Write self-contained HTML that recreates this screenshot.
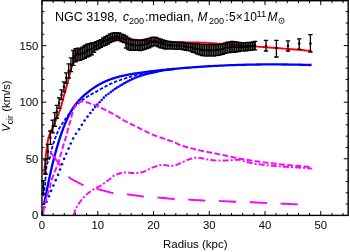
<!DOCTYPE html>
<html><head><meta charset="utf-8"><title>NGC 3198</title>
<style>html,body{margin:0;padding:0;background:#fff;width:350px;height:252px;overflow:hidden;font-family:"Liberation Sans",sans-serif}</style>
</head><body>
<svg width="350" height="252" viewBox="0 0 350 252" style="position:absolute;left:0;top:0;will-change:transform;">
<rect x="0" y="0" width="350" height="252" fill="#fff"/>
<path d="M44.20 175.00 L44.30 173.49 L44.39 171.96 L44.49 170.44 L44.59 168.93 L44.69 167.44 L44.80 166.00 L44.91 164.66 L45.03 163.41 L45.15 162.19 L45.28 160.93 L45.43 159.55 L45.60 158.00 L45.79 156.21 L46.00 154.22 L46.23 152.12 L46.47 150.00 L46.73 147.93 L47.00 146.00 L47.26 144.23 L47.51 142.57 L47.77 140.97 L48.09 139.37 L48.49 137.73 L49.00 136.00 L49.65 134.20 L50.41 132.39 L51.25 130.53 L52.15 128.61 L53.07 126.61 L54.00 124.50 L54.97 122.24 L56.01 119.83 L57.09 117.34 L58.14 114.83 L59.13 112.36 L60.00 110.00 L60.74 107.75 L61.38 105.56 L61.95 103.41 L62.49 101.28 L63.03 99.15 L63.60 97.00 L64.20 94.83 L64.81 92.65 L65.42 90.47 L66.02 88.30 L66.62 86.14 L67.20 84.00 L67.77 81.88 L68.32 79.77 L68.87 77.68 L69.41 75.60 L69.95 73.54 L70.50 71.50 L71.06 69.41 L71.64 67.24 L72.22 65.10 L72.78 63.06 L73.31 61.19 L73.80 59.60 L74.23 58.31 L74.62 57.26 L74.98 56.40 L75.32 55.66 L75.66 54.98 L76.00 54.30 L76.34 53.64 L76.68 53.06 L77.01 52.54 L77.34 52.07 L77.67 51.63 L78.00 51.20 L78.31 50.81 L78.59 50.47 L78.88 50.16 L79.19 49.86 L79.55 49.54 L80.00 49.20 L80.53 48.83 L81.11 48.44 L81.75 48.05 L82.44 47.64 L83.19 47.23 L84.00 46.80 L84.86 46.35 L85.78 45.87 L86.75 45.39 L87.78 44.90 L88.86 44.44 L90.00 44.00 L91.22 43.59 L92.52 43.20 L93.88 42.82 L95.26 42.47 L96.64 42.12 L98.00 41.80 L99.32 41.49 L100.63 41.21 L101.94 40.94 L103.26 40.68 L104.61 40.44 L106.00 40.20 L107.43 39.96 L108.89 39.73 L110.38 39.50 L111.89 39.30 L113.43 39.13 L115.00 39.00 L116.61 38.92 L118.26 38.88 L119.94 38.88 L121.63 38.90 L123.32 38.94 L125.00 39.00 L126.67 39.09 L128.33 39.21 L130.00 39.35 L131.67 39.50 L133.33 39.66 L135.00 39.80 L136.67 39.93 L138.33 40.07 L140.00 40.21 L141.67 40.34 L143.33 40.47 L145.00 40.60 L146.61 40.72 L148.15 40.84 L149.69 40.96 L151.30 41.07 L153.04 41.18 L155.00 41.30 L157.15 41.42 L159.44 41.54 L161.88 41.67 L164.44 41.79 L167.15 41.90 L170.00 42.00 L173.16 42.09 L176.67 42.16 L180.31 42.23 L183.89 42.29 L187.19 42.35 L190.00 42.40 L192.25 42.44 L194.07 42.47 L195.62 42.49 L197.04 42.52 L198.45 42.55 L200.00 42.60 L201.67 42.66 L203.33 42.74 L205.00 42.82 L206.67 42.91 L208.33 43.00 L210.00 43.10 L211.55 43.20 L212.96 43.29 L214.38 43.39 L215.93 43.51 L217.75 43.64 L220.00 43.80 L222.79 43.99 L226.04 44.21 L229.56 44.46 L233.19 44.71 L236.72 44.96 L240.00 45.20 L242.98 45.43 L245.81 45.67 L248.56 45.90 L251.30 46.13 L254.09 46.37 L257.00 46.60 L260.00 46.83 L263.04 47.05 L266.12 47.27 L269.30 47.50 L272.58 47.74 L276.00 48.00 L279.72 48.28 L283.76 48.59 L287.90 48.91 L291.96 49.23 L295.72 49.53 L299.00 49.80 L301.70 50.03 L303.97 50.24 L305.95 50.44 L307.79 50.62 L309.62 50.81 L311.60 51.00" fill="none" stroke="#ff0000" stroke-width="1.9" stroke-linejoin="round"/>
<path d="M43.80 204.97 L44.17 203.22 L44.54 201.45 L44.91 199.69 L45.28 197.94 L45.64 196.20 L46.00 194.48 L46.34 192.79 L46.68 191.11 L47.01 189.45 L47.34 187.80 L47.67 186.17 L48.00 184.55 L48.33 182.94 L48.67 181.34 L49.00 179.76 L49.33 178.19 L49.67 176.64 L50.00 175.11 L50.33 173.60 L50.67 172.11 L51.00 170.64 L51.33 169.19 L51.67 167.76 L52.00 166.35 L52.33 164.96 L52.67 163.58 L53.00 162.23 L53.33 160.89 L53.67 159.57 L54.00 158.27 L54.33 156.99 L54.67 155.72 L55.00 154.47 L55.33 153.24 L55.67 152.03 L56.00 150.83 L56.33 149.65 L56.67 148.48 L57.00 147.33 L57.33 146.20 L57.67 145.08 L58.00 143.97 L58.33 142.88 L58.67 141.80 L59.00 140.74 L59.33 139.69 L59.67 138.65 L60.00 137.63 L60.33 136.62 L60.67 135.62 L61.00 134.64 L61.33 133.67 L61.67 132.71 L62.00 131.77 L62.33 130.84 L62.67 129.93 L63.00 129.02 L63.33 128.13 L63.67 127.26 L64.00 126.40 L64.33 125.55 L64.67 124.72 L65.00 123.90 L65.33 123.10 L65.67 122.31 L66.00 121.53 L66.33 120.77 L66.67 120.02 L67.00 119.28 L67.33 118.56 L67.67 117.85 L68.00 117.15 L68.33 116.46 L68.67 115.79 L69.00 115.13 L69.33 114.48 L69.67 113.84 L70.00 113.22 L70.33 112.61 L70.67 112.01 L71.00 111.43 L71.33 110.85 L71.67 110.29 L72.00 109.74 L72.33 109.20 L72.67 108.67 L73.00 108.15 L73.33 107.64 L73.67 107.15 L74.00 106.66 L74.33 106.18 L74.67 105.72 L75.00 105.26 L75.33 104.82 L75.67 104.38 L76.00 103.95 L76.33 103.53 L76.67 103.11 L77.00 102.70 L77.33 102.30 L77.67 101.91 L78.00 101.52 L78.33 101.14 L78.67 100.77 L79.00 100.40 L79.33 100.04 L79.67 99.68 L80.00 99.33 L80.33 98.98 L80.67 98.64 L81.00 98.31 L81.33 97.98 L81.67 97.65 L82.00 97.33 L82.33 97.01 L82.67 96.69 L83.00 96.38 L83.33 96.07 L83.67 95.77 L84.00 95.47 L84.32 95.18 L84.64 94.91 L84.95 94.63 L85.27 94.36 L85.62 94.07 L86.00 93.75 L86.43 93.40 L86.90 93.02 L87.39 92.62 L87.88 92.23 L88.36 91.85 L88.80 91.50 L89.20 91.19 L89.59 90.89 L89.95 90.62 L90.30 90.35 L90.65 90.10 L91.00 89.84 L91.33 89.59 L91.64 89.37 L91.95 89.15 L92.27 88.92 L92.61 88.68 L93.00 88.41 L93.43 88.12 L93.89 87.80 L94.38 87.47 L94.89 87.13 L95.43 86.78 L96.00 86.42 L96.60 86.05 L97.22 85.67 L97.88 85.27 L98.56 84.87 L99.26 84.47 L100.00 84.06 L100.78 83.64 L101.59 83.22 L102.44 82.78 L103.30 82.36 L104.16 81.94 L105.00 81.55 L105.83 81.18 L106.67 80.82 L107.50 80.48 L108.33 80.15 L109.17 79.83 L110.00 79.52 L110.83 79.22 L111.67 78.93 L112.50 78.64 L113.33 78.37 L114.17 78.11 L115.00 77.85 L115.83 77.60 L116.67 77.36 L117.50 77.13 L118.33 76.90 L119.17 76.68 L120.00 76.47 L120.83 76.26 L121.67 76.06 L122.50 75.87 L123.33 75.68 L124.17 75.50 L125.00 75.32 L125.83 75.14 L126.67 74.97 L127.50 74.81 L128.33 74.64 L129.17 74.49 L130.00 74.33 L130.78 74.19 L131.48 74.06 L132.19 73.93 L132.96 73.80 L133.88 73.65 L135.00 73.48 L136.38 73.27 L137.96 73.04 L139.69 72.79 L141.48 72.53 L143.28 72.28 L145.00 72.05 L146.67 71.84 L148.33 71.63 L150.00 71.43 L151.67 71.24 L153.33 71.05 L155.00 70.86 L156.67 70.68 L158.33 70.50 L160.00 70.32 L161.67 70.15 L163.33 69.98 L165.00 69.81 L166.61 69.65 L168.15 69.49 L169.69 69.34 L171.30 69.18 L173.04 69.02 L175.00 68.84 L177.25 68.64 L179.74 68.42 L182.38 68.18 L185.04 67.95 L187.62 67.74 L190.00 67.54 L192.22 67.37 L194.37 67.20 L196.44 67.06 L198.41 66.92 L200.27 66.79 L202.00 66.67 L203.48 66.57 L204.70 66.49 L205.81 66.41 L206.96 66.34 L208.31 66.26 L210.00 66.17 L212.09 66.06 L214.48 65.93 L217.06 65.79 L219.74 65.66 L222.42 65.53 L225.00 65.41 L227.50 65.30 L230.00 65.21 L232.50 65.11 L235.00 65.03 L237.50 64.94 L240.00 64.87 L242.50 64.80 L245.00 64.74 L247.50 64.68 L250.00 64.63 L252.50 64.59 L255.00 64.55 L257.44 64.52 L259.81 64.49 L262.19 64.46 L264.63 64.44 L267.21 64.43 L270.00 64.43 L273.03 64.43 L276.24 64.44 L279.59 64.45 L283.03 64.48 L286.52 64.51 L290.00 64.55 L293.51 64.61 L297.08 64.68 L300.70 64.76 L304.34 64.84 L307.98 64.93 L311.60 65.01" fill="none" stroke="#0000ff" stroke-width="2.3" stroke-linejoin="round"/>
<path d="M43.20 196.00 L43.50 194.26 L43.81 192.63 L44.11 191.00 L44.41 189.26 L44.71 187.30 L45.00 185.00 L45.26 182.18 L45.48 178.89 L45.70 175.38 L45.94 171.89 L46.23 168.68 L46.60 166.00 L47.08 163.92 L47.65 162.26 L48.28 160.88 L48.90 159.63 L49.49 158.38 L50.00 157.00 L50.41 155.49 L50.75 153.96 L51.05 152.44 L51.34 150.93 L51.65 149.44 L52.00 148.00 L52.38 146.64 L52.76 145.37 L53.15 144.12 L53.58 142.85 L54.06 141.50 L54.60 140.00 L55.22 138.31 L55.91 136.44 L56.65 134.50 L57.42 132.56 L58.21 130.69 L59.00 129.00 L59.82 127.45 L60.70 125.96 L61.59 124.56 L62.46 123.26 L63.28 122.07 L64.00 121.00 L64.62 120.11 L65.15 119.39 L65.62 118.77 L66.07 118.21 L66.52 117.64 L67.00 117.00 L67.50 116.28 L68.00 115.54 L68.50 114.79 L69.00 114.04 L69.50 113.31 L70.00 112.60 L70.50 111.91 L71.00 111.23 L71.50 110.57 L72.00 109.92 L72.50 109.30 L73.00 108.70 L73.48 108.15 L73.95 107.64 L74.41 107.16 L74.90 106.67 L75.42 106.16 L76.00 105.60 L76.65 104.98 L77.35 104.32 L78.09 103.63 L78.85 102.94 L79.63 102.25 L80.40 101.60 L81.18 100.97 L81.97 100.35 L82.78 99.74 L83.59 99.14 L84.40 98.56 L85.20 98.00 L86.00 97.46 L86.80 96.93 L87.60 96.42 L88.40 95.93 L89.20 95.46 L90.00 95.00 L90.80 94.57 L91.59 94.18 L92.38 93.80 L93.17 93.43 L93.98 93.03 L94.80 92.60 L95.65 92.12 L96.51 91.61 L97.39 91.09 L98.27 90.55 L99.14 90.03 L100.00 89.52 L100.84 89.04 L101.68 88.57 L102.51 88.11 L103.34 87.65 L104.17 87.20 L105.00 86.75 L105.83 86.31 L106.67 85.87 L107.50 85.43 L108.33 85.00 L109.17 84.58 L110.00 84.17 L110.78 83.79 L111.48 83.44 L112.19 83.09 L112.96 82.73 L113.88 82.34 L115.00 81.90 L116.38 81.40 L117.96 80.84 L119.69 80.26 L121.48 79.66 L123.28 79.07 L125.00 78.50 L126.67 77.94 L128.33 77.37 L130.00 76.81 L131.67 76.27 L133.33 75.76 L135.00 75.30 L136.67 74.89 L138.33 74.54 L140.00 74.21 L141.67 73.91 L143.33 73.61 L145.00 73.30 L146.67 72.98 L148.33 72.67 L150.00 72.37 L151.67 72.07 L153.33 71.78 L155.00 71.50 L156.67 71.23 L158.33 70.96 L160.00 70.71 L161.67 70.46 L163.33 70.22 L165.00 70.00 L166.67 69.79 L168.33 69.60 L170.00 69.42 L171.67 69.25 L173.33 69.08 L175.00 68.90" fill="none" stroke="#0000ff" stroke-width="1.8" stroke-dasharray="3.5 1.8"/>
<g fill="#0000ff"><circle cx="42.60" cy="213.00" r="1.3"/><circle cx="44.28" cy="207.25" r="1.3"/><circle cx="46.60" cy="201.76" r="1.3"/><circle cx="48.88" cy="196.30" r="1.3"/><circle cx="51.13" cy="190.86" r="1.3"/><circle cx="53.38" cy="185.46" r="1.3"/><circle cx="55.73" cy="180.15" r="1.3"/><circle cx="58.05" cy="174.87" r="1.3"/><circle cx="60.05" cy="169.49" r="1.3"/><circle cx="61.97" cy="164.13" r="1.3"/><circle cx="64.06" cy="158.86" r="1.3"/><circle cx="66.35" cy="153.72" r="1.3"/><circle cx="68.57" cy="148.58" r="1.3"/><circle cx="70.72" cy="143.46" r="1.3"/><circle cx="73.13" cy="138.49" r="1.3"/><circle cx="75.92" cy="133.78" r="1.3"/><circle cx="79.08" cy="129.36" r="1.3"/><circle cx="81.91" cy="124.86" r="1.3"/><circle cx="84.58" cy="120.54" r="1.3"/><circle cx="87.50" cy="116.64" r="1.3"/><circle cx="90.37" cy="112.99" r="1.3"/><circle cx="92.92" cy="109.79" r="1.3"/><circle cx="95.15" cy="107.05" r="1.3"/><circle cx="97.30" cy="104.58" r="1.3"/><circle cx="99.54" cy="102.26" r="1.3"/><circle cx="101.73" cy="99.97" r="1.3"/><circle cx="103.80" cy="97.63" r="1.3"/><circle cx="106.06" cy="95.56" r="1.3"/><circle cx="108.50" cy="93.77" r="1.3"/><circle cx="110.78" cy="92.07" r="1.3"/><circle cx="112.83" cy="90.43" r="1.3"/><circle cx="114.80" cy="89.03" r="1.3"/><circle cx="116.67" cy="87.83" r="1.3"/><circle cx="118.53" cy="86.68" r="1.3"/><circle cx="120.41" cy="85.55" r="1.3"/><circle cx="122.29" cy="84.44" r="1.3"/><circle cx="124.18" cy="83.36" r="1.3"/><circle cx="126.08" cy="82.31" r="1.3"/><circle cx="127.98" cy="81.29" r="1.3"/><circle cx="129.89" cy="80.29" r="1.3"/><circle cx="131.82" cy="79.34" r="1.3"/><circle cx="133.77" cy="78.44" r="1.3"/><circle cx="135.73" cy="77.60" r="1.3"/><circle cx="137.72" cy="76.83" r="1.3"/><circle cx="139.72" cy="76.12" r="1.3"/><circle cx="141.74" cy="75.47" r="1.3"/><circle cx="143.76" cy="74.86" r="1.3"/><circle cx="145.78" cy="74.28" r="1.3"/><circle cx="147.82" cy="73.77" r="1.3"/><circle cx="149.85" cy="73.31" r="1.3"/><circle cx="151.89" cy="72.87" r="1.3"/><circle cx="153.92" cy="72.44" r="1.3"/><circle cx="155.94" cy="71.98" r="1.3"/><circle cx="157.94" cy="71.48" r="1.3"/><circle cx="159.94" cy="71.00" r="1.3"/><circle cx="161.95" cy="70.58" r="1.3"/><circle cx="163.97" cy="70.25" r="1.3"/><circle cx="165.99" cy="69.97" r="1.3"/><circle cx="168.00" cy="69.72" r="1.3"/><circle cx="170.01" cy="69.49" r="1.3"/><circle cx="172.01" cy="69.26" r="1.3"/><circle cx="174.01" cy="69.02" r="1.3"/></g>
<path d="M43.60 215.00 L43.62 214.01 L43.61 213.04 L43.61 212.06 L43.62 211.07 L43.68 210.06 L43.80 209.00 L44.00 207.88 L44.26 206.70 L44.57 205.50 L44.89 204.30 L45.21 203.12 L45.50 202.00 L45.76 200.92 L46.02 199.85 L46.27 198.81 L46.51 197.81 L46.76 196.87 L47.00 196.00 L47.24 195.22 L47.47 194.52 L47.71 193.88 L47.94 193.26 L48.17 192.64 L48.40 192.00 L48.64 191.36 L48.87 190.74 L49.11 190.12 L49.35 189.48 L49.58 188.78 L49.80 188.00 L49.98 187.17 L50.11 186.33 L50.24 185.44 L50.40 184.44 L50.64 183.31 L51.00 182.00 L51.52 180.41 L52.16 178.56 L52.89 176.56 L53.64 174.56 L54.36 172.66 L55.00 171.00 L55.57 169.60 L56.11 168.37 L56.62 167.25 L57.11 166.19 L57.57 165.12 L58.00 164.00 L58.39 162.83 L58.74 161.67 L59.06 160.50 L59.37 159.33 L59.68 158.17 L60.00 157.00 L60.32 155.87 L60.63 154.78 L60.94 153.69 L61.26 152.56 L61.61 151.34 L62.00 150.00 L62.46 148.45 L62.98 146.70 L63.52 144.88 L64.07 143.07 L64.57 141.41 L65.00 140.00 L65.35 138.89 L65.64 138.00 L65.90 137.25 L66.13 136.56 L66.36 135.83 L66.60 135.00 L66.84 134.05 L67.08 133.04 L67.31 132.00 L67.53 130.96 L67.76 129.95 L68.00 129.00 L68.25 128.10 L68.50 127.24 L68.76 126.40 L69.01 125.59 L69.26 124.79 L69.50 124.00 L69.73 123.24 L69.95 122.51 L70.17 121.81 L70.38 121.10 L70.59 120.37 L70.80 119.60 L71.01 118.78 L71.21 117.93 L71.41 117.06 L71.60 116.18 L71.80 115.32 L72.00 114.50 L72.19 113.70 L72.38 112.92 L72.56 112.15 L72.76 111.40 L72.97 110.69 L73.20 110.00 L73.47 109.35 L73.76 108.72 L74.06 108.12 L74.38 107.56 L74.69 107.01 L75.00 106.50 L75.30 106.01 L75.60 105.56 L75.91 105.12 L76.21 104.72 L76.51 104.35 L76.80 104.00 L77.09 103.68 L77.38 103.40 L77.67 103.14 L77.95 102.90 L78.23 102.69 L78.50 102.50 L78.76 102.33 L79.01 102.20 L79.26 102.08 L79.50 101.98 L79.75 101.89 L80.00 101.80 L80.25 101.71 L80.50 101.62 L80.74 101.54 L81.00 101.48 L81.29 101.43 L81.60 101.40 L81.95 101.39 L82.32 101.40 L82.71 101.43 L83.13 101.47 L83.56 101.53 L84.00 101.60 L84.47 101.70 L84.96 101.81 L85.46 101.95 L85.98 102.10 L86.49 102.25 L87.00 102.40 L87.49 102.55 L87.96 102.70 L88.44 102.86 L88.93 103.03 L89.44 103.21 L90.00 103.40 L90.60 103.61 L91.24 103.82 L91.91 104.05 L92.60 104.29 L93.30 104.54 L94.00 104.80 L94.72 105.08 L95.47 105.37 L96.22 105.68 L96.98 105.99 L97.71 106.30 L98.40 106.60 L99.03 106.88 L99.61 107.15 L100.18 107.42 L100.74 107.69 L101.34 107.98 L102.00 108.30 L102.75 108.66 L103.57 109.04 L104.42 109.45 L105.27 109.86 L106.08 110.24 L106.80 110.60 L107.41 110.91 L107.92 111.17 L108.39 111.42 L108.86 111.68 L109.38 111.97 L110.00 112.30 L110.67 112.65 L111.35 113.00 L112.08 113.38 L112.90 113.82 L113.86 114.35 L115.00 115.00 L116.38 115.82 L117.96 116.79 L119.69 117.86 L121.48 118.95 L123.28 120.02 L125.00 121.00 L126.67 121.89 L128.33 122.74 L130.00 123.56 L131.67 124.37 L133.33 125.18 L135.00 126.00 L136.67 126.84 L138.33 127.68 L140.00 128.53 L141.67 129.36 L143.33 130.19 L145.00 131.00 L146.67 131.80 L148.33 132.61 L150.00 133.40 L151.67 134.17 L153.33 134.91 L155.00 135.60 L156.67 136.23 L158.33 136.81 L160.00 137.36 L161.67 137.90 L163.33 138.44 L165.00 139.00 L166.72 139.60 L168.52 140.23 L170.31 140.86 L172.04 141.48 L173.62 142.07 L175.00 142.60 L176.06 143.06 L176.85 143.47 L177.50 143.84 L178.15 144.20 L178.94 144.58 L180.00 145.00 L181.38 145.47 L182.96 145.98 L184.69 146.50 L186.48 147.02 L188.28 147.53 L190.00 148.00 L191.67 148.44 L193.33 148.86 L195.00 149.26 L196.67 149.65 L198.33 150.03 L200.00 150.40 L201.67 150.76 L203.33 151.10 L205.00 151.43 L206.67 151.75 L208.33 152.07 L210.00 152.40 L211.67 152.73 L213.33 153.06 L215.00 153.39 L216.67 153.72 L218.33 154.06 L220.00 154.40 L221.67 154.76 L223.33 155.13 L225.00 155.50 L226.67 155.87 L228.33 156.24 L230.00 156.60 L231.61 156.94 L233.15 157.26 L234.69 157.58 L236.30 157.90 L238.04 158.24 L240.00 158.60 L242.15 158.99 L244.44 159.39 L246.88 159.81 L249.44 160.24 L252.15 160.67 L255.00 161.10 L258.04 161.53 L261.30 161.98 L264.69 162.43 L268.15 162.87 L271.61 163.30 L275.00 163.70 L278.45 164.08 L282.04 164.46 L285.62 164.81 L289.07 165.14 L292.25 165.44 L295.00 165.70 L297.28 165.91 L299.20 166.07 L300.84 166.19 L302.29 166.30 L303.65 166.40 L305.00 166.50 L306.30 166.60 L307.45 166.69 L308.51 166.77 L309.53 166.84 L310.54 166.92 L311.60 167.00" fill="none" stroke="#ff00ff" stroke-width="1.9" stroke-dasharray="5.8 2.4" stroke-dashoffset="5.0"/>
<path d="M73.70 215.40 L73.84 214.84 L73.98 214.29 L74.12 213.74 L74.26 213.18 L74.42 212.60 L74.60 212.00 L74.80 211.34 L75.03 210.64 L75.27 209.91 L75.51 209.21 L75.76 208.56 L76.00 208.00 L76.22 207.57 L76.42 207.26 L76.63 207.00 L76.84 206.74 L77.10 206.43 L77.40 206.00 L77.72 205.48 L78.05 204.93 L78.41 204.31 L78.84 203.63 L79.36 202.86 L80.00 202.00 L80.78 201.00 L81.67 199.85 L82.66 198.62 L83.73 197.37 L84.84 196.14 L86.00 195.00 L87.26 193.90 L88.67 192.78 L90.12 191.69 L91.56 190.67 L92.87 189.76 L94.00 189.00 L94.90 188.44 L95.63 188.04 L96.25 187.75 L96.81 187.52 L97.38 187.29 L98.00 187.00 L98.68 186.67 L99.37 186.35 L100.06 186.03 L100.74 185.70 L101.39 185.36 L102.00 185.00 L102.53 184.62 L103.00 184.24 L103.44 183.84 L103.89 183.43 L104.40 182.98 L105.00 182.50 L105.73 181.97 L106.56 181.40 L107.44 180.81 L108.33 180.20 L109.20 179.59 L110.00 179.00 L110.71 178.41 L111.35 177.81 L111.96 177.21 L112.59 176.63 L113.25 176.09 L114.00 175.60 L114.83 175.16 L115.72 174.77 L116.65 174.41 L117.61 174.08 L118.60 173.78 L119.60 173.50 L120.62 173.24 L121.67 173.00 L122.75 172.78 L123.84 172.60 L124.92 172.47 L126.00 172.40 L127.07 172.41 L128.13 172.51 L129.20 172.65 L130.27 172.80 L131.33 172.93 L132.40 173.00 L133.48 173.01 L134.56 173.00 L135.65 172.97 L136.73 172.91 L137.78 172.82 L138.80 172.70 L139.78 172.56 L140.73 172.40 L141.65 172.21 L142.56 171.98 L143.48 171.72 L144.40 171.40 L145.32 171.02 L146.24 170.56 L147.15 170.07 L148.07 169.56 L149.02 169.06 L150.00 168.60 L151.04 168.16 L152.13 167.73 L153.25 167.30 L154.36 166.90 L155.42 166.53 L156.40 166.20 L157.30 165.91 L158.15 165.66 L158.95 165.44 L159.72 165.25 L160.46 165.11 L161.20 165.00 L161.92 164.95 L162.60 164.95 L163.26 164.99 L163.91 165.05 L164.55 165.13 L165.20 165.20 L165.84 165.28 L166.47 165.39 L167.10 165.51 L167.73 165.63 L168.36 165.73 L169.00 165.80 L169.66 165.85 L170.34 165.88 L171.02 165.89 L171.70 165.89 L172.36 165.86 L173.00 165.80 L173.61 165.71 L174.20 165.59 L174.78 165.44 L175.35 165.28 L175.92 165.10 L176.50 164.90 L177.07 164.70 L177.61 164.48 L178.16 164.24 L178.72 163.99 L179.33 163.71 L180.00 163.40 L180.75 163.05 L181.56 162.65 L182.41 162.23 L183.28 161.80 L184.15 161.39 L185.00 161.00 L185.83 160.63 L186.67 160.27 L187.50 159.93 L188.33 159.59 L189.17 159.28 L190.00 159.00 L190.83 158.74 L191.67 158.49 L192.50 158.26 L193.33 158.07 L194.17 157.91 L195.00 157.80 L195.83 157.74 L196.67 157.74 L197.50 157.77 L198.33 157.83 L199.17 157.91 L200.00 158.00 L200.83 158.11 L201.67 158.24 L202.50 158.40 L203.33 158.57 L204.17 158.74 L205.00 158.90 L205.78 159.06 L206.48 159.24 L207.19 159.41 L207.96 159.59 L208.88 159.75 L210.00 159.90 L211.38 160.05 L212.96 160.20 L214.69 160.34 L216.48 160.46 L218.28 160.55 L220.00 160.60 L221.72 160.60 L223.52 160.54 L225.31 160.46 L227.04 160.37 L228.62 160.27 L230.00 160.20 L231.12 160.14 L232.04 160.08 L232.81 160.02 L233.52 159.97 L234.22 159.93 L235.00 159.90 L235.83 159.86 L236.67 159.82 L237.50 159.78 L238.33 159.77 L239.17 159.80 L240.00 159.90 L240.78 160.07 L241.48 160.29 L242.19 160.56 L242.96 160.86 L243.88 161.18 L245.00 161.50 L246.38 161.84 L247.96 162.22 L249.69 162.62 L251.48 163.01 L253.28 163.38 L255.00 163.70 L256.67 163.97 L258.33 164.21 L260.00 164.42 L261.67 164.62 L263.33 164.81 L265.00 165.00 L266.67 165.19 L268.33 165.36 L270.00 165.53 L271.67 165.69 L273.33 165.85 L275.00 166.00 L276.67 166.15 L278.33 166.29 L280.00 166.42 L281.67 166.56 L283.33 166.68 L285.00 166.80 L286.67 166.91 L288.33 167.01 L290.00 167.11 L291.67 167.21 L293.33 167.30 L295.00 167.40 L296.72 167.50 L298.50 167.61 L300.28 167.71 L302.00 167.81 L303.59 167.91 L305.00 168.00 L306.23 168.07 L307.33 168.13 L308.31 168.19 L309.16 168.24 L309.89 168.31 L310.50 168.40 L310.94 168.51 L311.19 168.64 L311.32 168.77 L311.40 168.92 L311.47 169.06 L311.60 169.20" fill="none" stroke="#ff00ff" stroke-width="1.9" stroke-dasharray="6 2.1 2 2.1"/>
<path d="M50.40 152.00 L51.20 153.10 L52.00 154.21 L52.80 155.31 L53.60 156.41 L54.40 157.51 L55.20 158.60 L56.00 159.67 L56.79 160.73 L57.59 161.77 L58.39 162.83 L59.19 163.90 L60.00 165.00 L60.82 166.14 L61.65 167.33 L62.49 168.53 L63.33 169.72 L64.16 170.88 L65.00 172.00 L65.82 173.08 L66.61 174.16 L67.41 175.21 L68.22 176.21 L69.08 177.14 L70.00 178.00 L71.00 178.75 L72.06 179.42 L73.16 180.02 L74.28 180.58 L75.40 181.13 L76.50 181.70 L77.58 182.28 L78.65 182.87 L79.72 183.44 L80.80 183.99 L81.89 184.51 L83.00 185.00 L84.14 185.45 L85.30 185.86 L86.47 186.25 L87.65 186.61 L88.83 186.96 L90.00 187.30 L91.16 187.61 L92.30 187.90 L93.44 188.17 L94.59 188.43 L95.78 188.71 L97.00 189.00 L98.27 189.32 L99.58 189.64 L100.91 189.98 L102.27 190.32 L103.63 190.66 L105.00 191.00 L106.31 191.34 L107.56 191.69 L108.83 192.04 L110.17 192.38 L111.67 192.70 L113.40 193.00 L115.38 193.26 L117.56 193.48 L119.89 193.69 L122.33 193.90 L124.85 194.13 L127.40 194.40 L130.05 194.73 L132.84 195.12 L135.70 195.53 L138.56 195.93 L141.35 196.29 L144.00 196.60 L146.46 196.83 L148.77 197.01 L151.01 197.15 L153.25 197.28 L155.56 197.42 L158.00 197.60 L160.62 197.82 L163.38 198.07 L166.20 198.32 L169.02 198.58 L171.78 198.81 L174.40 199.00 L176.84 199.14 L179.13 199.24 L181.36 199.32 L183.60 199.40 L185.92 199.49 L188.40 199.60 L191.10 199.75 L193.97 199.93 L196.92 200.11 L199.87 200.30 L202.73 200.46 L205.40 200.60 L207.82 200.70 L210.06 200.76 L212.20 200.81 L214.34 200.86 L216.58 200.92 L219.00 201.00 L221.67 201.11 L224.53 201.25 L227.47 201.40 L230.43 201.55 L233.30 201.69 L236.00 201.80 L238.48 201.89 L240.79 201.95 L243.03 202.00 L245.25 202.05 L247.55 202.11 L250.00 202.20 L252.65 202.31 L255.44 202.44 L258.30 202.59 L261.16 202.73 L263.95 202.87 L266.60 203.00 L269.05 203.11 L271.36 203.21 L273.59 203.30 L275.82 203.39 L278.13 203.49 L280.60 203.60 L283.30 203.73 L286.19 203.86 L289.15 204.01 L292.08 204.15 L294.87 204.28 L297.40 204.40 L299.63 204.50 L301.65 204.59 L303.52 204.67 L305.33 204.74 L307.13 204.82 L309.00 204.90" fill="none" stroke="#ff00ff" stroke-width="1.9" stroke-dasharray="17.2 13.6"/>
<path d="M72.00 52.60 L73.00 50.96 L74.00 49.33 L75.00 48.69 L76.00 48.30 L77.00 48.28 L78.00 48.25 L79.00 48.23 L80.00 48.20 L81.00 47.67 L82.00 47.13 L83.00 46.60 L84.00 45.80 L85.00 45.23 L86.00 44.89 L87.00 44.54 L88.00 44.20 L89.00 43.92 L90.00 43.64 L91.00 43.37 L92.00 43.10 L93.00 42.85 L94.00 42.60 L95.00 42.31 L96.00 42.02 L97.00 41.60 L98.00 41.10 L99.00 40.60 L100.00 40.10 L101.00 39.48 L102.00 38.85 L103.00 38.23 L104.00 37.60 L105.00 36.95 L106.00 36.20 L107.00 35.63 L108.00 35.17 L109.00 34.72 L110.00 34.27 L111.00 33.82 L112.00 33.36 L113.00 32.98 L114.00 32.90 L115.00 32.82 L116.00 32.73 L117.00 32.65 L118.00 32.73 L119.00 33.07 L120.00 33.40 L121.00 33.73 L122.00 34.07 L123.00 34.54 L124.00 35.11 L125.00 35.70 L126.00 36.32 L127.00 36.97 L128.00 37.60 L129.00 38.20 L130.00 38.70 L131.00 39.20 L132.00 39.70 L133.00 39.86 L134.00 40.01 L135.00 40.17 L136.00 40.23 L137.00 40.26 L138.00 40.29 L139.00 40.21 L140.00 40.05 L141.00 39.89 L142.00 39.73 L143.00 39.54 L144.00 39.35 L145.00 39.15 L146.00 38.90 L147.00 38.65 L148.00 38.40 L149.00 38.15 L150.00 37.90 L151.00 37.65 L152.00 37.55 L153.00 37.49 L154.00 37.43 L155.00 37.36 L156.00 37.30 L157.00 37.75 L158.00 38.20 L159.00 38.65 L160.00 39.10 L161.00 39.40 L162.00 39.70 L163.00 40.00 L164.00 40.30 L165.00 40.60 L166.00 40.80 L167.00 41.00 L168.00 41.20 L169.00 41.40 L170.00 41.60 L171.00 41.66 L172.00 41.72 L173.00 41.78 L174.00 41.84 L175.00 41.90 L176.00 41.96 L177.00 42.02 L178.00 42.08 L179.00 42.14 L180.00 42.20 L181.00 42.34 L182.00 42.48 L183.00 42.62 L184.00 42.76 L185.00 42.90 L186.00 43.04 L187.00 43.18 L188.00 43.32 L189.00 43.46 L190.00 43.60 L191.00 43.66 L192.00 43.72 L193.00 43.78 L194.00 43.84 L195.00 43.90 L196.00 43.96 L197.00 44.02 L198.00 44.08 L199.00 44.14 L200.00 44.20 L201.00 44.24 L202.00 44.28 L203.00 44.32 L204.00 44.36 L205.00 44.40 L206.00 44.44 L207.00 44.48 L208.00 44.52 L209.00 44.56 L210.00 44.60 L211.00 44.60 L212.00 44.60 L213.00 44.60 L214.00 44.60 L215.00 44.60 L216.00 44.60 L217.00 44.60 L218.00 44.60 L219.00 44.60 L220.00 44.60 L221.00 44.30 L222.00 44.00 L223.00 43.70 L224.00 43.40 L225.00 43.10 L226.00 42.80 L227.00 42.50 L228.00 42.20 L229.00 41.90 L230.00 41.60 L231.00 41.60 L232.00 41.60 L233.00 41.60 L234.00 41.60 L235.00 41.60 L236.00 41.80 L237.00 42.00 L238.00 42.20 L239.00 42.40 L240.00 42.60 L241.00 42.68 L242.00 42.76 L243.00 42.84 L244.00 42.92 L245.00 43.00 L246.00 42.92 L247.00 42.84 L248.00 42.76 L249.00 42.68 L250.00 42.60 L251.00 42.40 L252.00 42.20 L253.00 42.00 L254.00 41.80 L255.00 41.60 L256.00 41.60 L256.00 50.10 L255.00 50.10 L254.00 50.20 L253.00 50.30 L252.00 50.40 L251.00 50.50 L250.00 50.60 L249.00 50.70 L248.00 50.80 L247.00 50.90 L246.00 51.00 L245.00 51.10 L244.00 51.10 L243.00 51.10 L242.00 51.10 L241.00 51.10 L240.00 51.10 L239.00 51.30 L238.00 51.50 L237.00 51.70 L236.00 51.90 L235.00 52.10 L234.00 52.10 L233.00 52.10 L232.00 52.10 L231.00 52.10 L230.00 52.10 L229.00 52.40 L228.00 52.70 L227.00 53.00 L226.00 53.30 L225.00 53.60 L224.00 53.90 L223.00 54.20 L222.00 54.50 L221.00 54.80 L220.00 55.10 L219.00 55.24 L218.00 55.38 L217.00 55.52 L216.00 55.66 L215.00 55.80 L214.00 55.86 L213.00 55.92 L212.00 55.98 L211.00 56.04 L210.00 56.10 L209.00 56.04 L208.00 55.98 L207.00 55.92 L206.00 55.86 L205.00 55.80 L204.00 55.66 L203.00 55.52 L202.00 55.38 L201.00 55.24 L200.00 55.10 L199.00 54.70 L198.00 54.30 L197.00 53.90 L196.00 53.50 L195.00 53.10 L194.00 52.70 L193.00 52.30 L192.00 51.90 L191.00 51.50 L190.00 51.10 L189.00 50.90 L188.00 50.70 L187.00 50.50 L186.00 50.30 L185.00 50.10 L184.00 49.90 L183.00 49.70 L182.00 49.50 L181.00 49.30 L180.00 49.10 L179.00 49.10 L178.00 49.10 L177.00 49.10 L176.00 49.10 L175.00 49.10 L174.00 49.10 L173.00 49.10 L172.00 49.10 L171.00 49.10 L170.00 49.10 L169.00 49.10 L168.00 49.10 L167.00 49.10 L166.00 49.10 L165.00 49.10 L164.00 48.80 L163.00 48.50 L162.00 48.20 L161.00 47.90 L160.00 47.60 L159.00 47.10 L158.00 46.60 L157.00 46.10 L156.00 45.60 L155.00 45.81 L154.00 46.02 L153.00 46.23 L152.00 46.43 L151.00 46.69 L150.00 47.16 L149.00 47.63 L148.00 48.10 L147.00 48.41 L146.00 48.73 L145.00 49.04 L144.00 49.35 L143.00 49.66 L142.00 49.98 L141.00 50.14 L140.00 50.20 L139.00 50.26 L138.00 50.33 L137.00 50.39 L136.00 50.45 L135.00 50.49 L134.00 50.43 L133.00 50.36 L132.00 50.30 L131.00 50.11 L130.00 49.93 L129.00 49.74 L128.00 49.40 L127.00 48.92 L126.00 48.04 L125.00 45.35 L124.00 42.77 L123.00 42.10 L122.00 41.58 L121.00 41.29 L120.00 41.00 L119.00 40.71 L118.00 40.42 L117.00 40.43 L116.00 40.63 L115.00 40.84 L114.00 41.05 L113.00 41.26 L112.00 41.73 L111.00 42.26 L110.00 42.79 L109.00 43.32 L108.00 43.85 L107.00 44.38 L106.00 44.90 L105.00 45.40 L104.00 45.87 L103.00 46.33 L102.00 46.78 L101.00 47.24 L100.00 47.70 L99.00 48.31 L98.00 48.92 L97.00 49.53 L96.00 50.30 L95.00 51.30 L94.00 52.30 L93.00 53.47 L92.00 54.63 L91.00 55.40 L90.00 55.90 L89.00 56.40 L88.00 56.90 L87.00 57.30 L86.00 57.70 L85.00 58.10 L84.00 58.50 L83.00 58.90 L82.00 59.43 L81.00 59.90 L80.00 60.30 L79.00 60.50 L78.00 60.70 L77.00 60.90 L76.00 61.10 L75.00 62.77 L74.00 64.37 L73.00 65.74 L72.00 67.10Z" fill="#000" fill-opacity="0.6"/>
<path d="M43.30 180.60V194.00M41.10 180.60H45.50M41.10 194.00H45.50M45.60 160.00V174.00M43.40 160.00H47.80M43.40 174.00H47.80M47.90 144.40V158.50M45.70 144.40H50.10M45.70 158.50H50.10M50.40 131.00V144.40M48.20 131.00H52.60M48.20 144.40H52.60M52.80 120.20V132.80M50.60 120.20H55.00M50.60 132.80H55.00M54.90 112.60V126.20M52.70 112.60H57.10M52.70 126.20H57.10M56.90 105.40V118.20M54.70 105.40H59.10M54.70 118.20H59.10M59.10 97.80V108.40M56.90 97.80H61.30M56.90 108.40H61.30M61.50 89.80V99.60M59.30 89.80H63.70M59.30 99.60H63.70M64.00 81.80V91.80M61.80 81.80H66.20M61.80 91.80H66.20M66.30 72.80V83.40M64.10 72.80H68.50M64.10 83.40H68.50M68.70 63.80V78.00M66.50 63.80H70.90M66.50 78.00H70.90M71.00 57.80V71.60M68.80 57.80H73.20M68.80 71.60H73.20M73.30 50.50V65.36M71.10 50.50H75.50M71.10 65.36H75.50M75.60 48.58V61.89M73.40 48.58H77.80M73.40 61.89H77.80M77.90 48.13V60.59M75.70 48.13H80.10M75.70 60.59H80.10M80.20 48.10V60.23M78.00 48.10H82.40M78.00 60.23H82.40M82.50 47.10V59.40M80.30 47.10H84.70M80.30 59.40H84.70M84.80 45.53V58.42M82.60 45.53H87.00M82.60 58.42H87.00M87.10 44.28V57.04M84.90 44.28H89.30M84.90 57.04H89.30M89.40 43.64V56.02M87.20 43.64H91.60M87.20 56.02H91.60M91.70 42.91V54.71M89.50 42.91H93.90M89.50 54.71H93.90M94.00 42.56V52.26M91.80 42.56H96.20M91.80 52.26H96.20M96.30 41.65V49.72M94.10 41.65H98.50M94.10 49.72H98.50M98.60 40.77V48.53M96.40 40.77H100.80M96.40 48.53H100.80M100.90 39.63V47.38M98.70 39.63H103.10M98.70 47.38H103.10M103.20 37.97V46.10M101.00 37.97H105.40M101.00 46.10H105.40M105.50 36.68V45.26M103.30 36.68H107.70M103.30 45.26H107.70M107.80 35.32V44.01M105.60 35.32H110.00M105.60 44.01H110.00M110.10 33.94V42.45M107.90 33.94H112.30M107.90 42.45H112.30M112.40 33.22V41.55M110.20 33.22H114.60M110.20 41.55H114.60M114.70 32.70V40.76M112.50 32.70H116.90M112.50 40.76H116.90M117.00 32.60V40.37M114.80 32.60H119.20M114.80 40.37H119.20M119.30 33.04V40.67M117.10 33.04H121.50M117.10 40.67H121.50M121.60 34.05V41.58M119.40 34.05H123.80M119.40 41.58H123.80M123.90 35.02V42.66M121.70 35.02H126.10M121.70 42.66H126.10M126.20 36.25V48.01M124.00 36.25H128.40M124.00 48.01H128.40M128.50 37.94V49.61M126.30 37.94H130.70M126.30 49.61H130.70M130.80 39.27V50.24M128.60 39.27H133.00M128.60 50.24H133.00M133.10 39.76V50.25M130.90 39.76H135.30M130.90 50.25H135.30M135.40 40.04V50.32M133.20 40.04H137.60M133.20 50.32H137.60M137.70 40.21V50.28M135.50 40.21H139.90M135.50 50.28H139.90M140.00 40.31V50.46M137.80 40.31H142.20M137.80 50.46H142.20M142.30 39.95V50.17M140.10 39.95H144.50M140.10 50.17H144.50M144.60 39.34V49.27M142.40 39.34H146.80M142.40 49.27H146.80M146.90 38.92V48.69M144.70 38.92H149.10M144.70 48.69H149.10M149.20 38.31V47.74M147.00 38.31H151.40M147.00 47.74H151.40M151.50 37.51V46.46M149.30 37.51H153.70M149.30 46.46H153.70M153.80 37.19V45.81M151.60 37.19H156.00M151.60 45.81H156.00M156.10 37.44V45.74M153.90 37.44H158.30M153.90 45.74H158.30M158.40 38.41V46.83M156.20 38.41H160.60M156.20 46.83H160.60M160.70 39.23V47.73M158.50 39.23H162.90M158.50 47.73H162.90M163.00 39.84V48.34M160.80 39.84H165.20M160.80 48.34H165.20M165.30 40.60V49.04M163.10 40.60H167.50M163.10 49.04H167.50M167.60 41.10V49.08M165.40 41.10H169.80M165.40 49.08H169.80M169.90 41.44V48.96M167.70 41.44H172.10M167.70 48.96H172.10M172.20 41.61V48.98M170.00 41.61H174.40M170.00 48.98H174.40M174.50 41.84V49.07M172.30 41.84H176.70M172.30 49.07H176.70M176.80 42.22V49.32M174.60 42.22H179.00M174.60 49.32H179.00M179.10 42.20V49.15M176.90 42.20H181.30M176.90 49.15H181.30M181.40 42.27V49.25M179.20 42.27H183.60M179.20 49.25H183.60M183.70 42.58V49.71M181.50 42.58H185.90M181.50 49.71H185.90M186.00 43.01V50.27M183.80 43.01H188.20M183.80 50.27H188.20M188.30 43.19V50.58M186.10 43.19H190.50M186.10 50.58H190.50M190.60 43.46V51.16M188.40 43.46H192.80M188.40 51.16H192.80M192.90 43.78V52.27M190.70 43.78H195.10M190.70 52.27H195.10M195.20 43.66V52.93M193.00 43.66H197.40M193.00 52.93H197.40M197.50 44.04V54.09M195.30 44.04H199.70M195.30 54.09H199.70M199.80 44.11V54.94M197.60 44.11H202.00M197.60 54.94H202.00M202.10 44.41V55.52M199.90 44.41H204.30M199.90 55.52H204.30M204.40 44.52V55.86M202.20 44.52H206.60M202.20 55.86H206.60M206.70 44.58V56.02M204.50 44.58H208.90M204.50 56.02H208.90M209.00 44.67V56.15M206.80 44.67H211.20M206.80 56.15H211.20M211.30 44.52V55.95M209.10 44.52H213.50M209.10 55.95H213.50M213.60 44.70V55.98M211.40 44.70H215.80M211.40 55.98H215.80M215.90 44.50V55.58M213.70 44.50H218.10M213.70 55.58H218.10M218.20 44.64V55.40M216.00 44.64H220.40M216.00 55.40H220.40M220.50 44.35V54.85M218.30 44.35H222.70M218.30 54.85H222.70M222.80 43.73V54.23M220.60 43.73H225.00M220.60 54.23H225.00M225.10 42.81V53.31M222.90 42.81H227.30M222.90 53.31H227.30M227.40 42.23V52.73M225.20 42.23H229.60M225.20 52.73H229.60M229.70 41.97V52.47M227.50 41.97H231.90M227.50 52.47H231.90M232.00 41.44V51.94M229.80 41.44H234.20M229.80 51.94H234.20M234.30 41.71V52.21M232.10 41.71H236.50M232.10 52.21H236.50M236.60 42.01V51.87M234.40 42.01H238.80M234.40 51.87H238.80M238.90 42.51V51.45M236.70 42.51H241.10M236.70 51.45H241.10M241.20 42.68V51.09M239.00 42.68H243.40M239.00 51.09H243.40M243.50 42.94V51.16M241.30 42.94H245.70M241.30 51.16H245.70M245.80 42.68V50.76M243.60 42.68H248.00M243.60 50.76H248.00M248.10 42.50V50.53M245.90 42.50H250.30M245.90 50.53H250.30M250.40 42.34V50.38M248.20 42.34H252.60M248.20 50.38H252.60M252.70 41.85V50.12M250.50 41.85H254.90M250.50 50.12H254.90M255.00 41.36V49.86M252.80 41.36H257.20M252.80 49.86H257.20M266.00 40.40V51.00M263.80 40.40H268.20M263.80 51.00H268.20M276.40 40.40V57.00M274.20 40.40H278.60M274.20 57.00H278.60M288.00 40.80V51.00M285.80 40.80H290.20M285.80 51.00H290.20M299.20 38.80V49.30M297.00 38.80H301.40M297.00 49.30H301.40M310.40 34.60V52.00M308.20 34.60H312.60M308.20 52.00H312.60" fill="none" stroke="#000" stroke-width="1.35"/>
<g fill="#000"><circle cx="43.30" cy="187.30" r="1.3"/><circle cx="45.60" cy="167.00" r="1.3"/><circle cx="47.90" cy="151.45" r="1.3"/><circle cx="50.40" cy="137.70" r="1.3"/><circle cx="52.80" cy="126.50" r="1.3"/><circle cx="54.90" cy="119.40" r="1.3"/><circle cx="56.90" cy="111.80" r="1.3"/><circle cx="59.10" cy="103.10" r="1.3"/><circle cx="61.50" cy="94.70" r="1.3"/><circle cx="64.00" cy="86.80" r="1.3"/><circle cx="66.30" cy="78.10" r="1.3"/><circle cx="68.70" cy="70.90" r="1.3"/><circle cx="71.00" cy="64.70" r="1.3"/><circle cx="73.30" cy="57.93" r="1.3"/><circle cx="75.60" cy="55.24" r="1.3"/><circle cx="77.90" cy="54.36" r="1.3"/><circle cx="80.20" cy="54.16" r="1.3"/><circle cx="82.50" cy="53.25" r="1.3"/><circle cx="84.80" cy="51.98" r="1.3"/><circle cx="87.10" cy="50.66" r="1.3"/><circle cx="89.40" cy="49.83" r="1.3"/><circle cx="91.70" cy="48.81" r="1.3"/><circle cx="94.00" cy="47.41" r="1.3"/><circle cx="96.30" cy="45.68" r="1.3"/><circle cx="98.60" cy="44.65" r="1.3"/><circle cx="100.90" cy="43.50" r="1.3"/><circle cx="103.20" cy="42.03" r="1.3"/><circle cx="105.50" cy="40.97" r="1.3"/><circle cx="107.80" cy="39.67" r="1.3"/><circle cx="110.10" cy="38.19" r="1.3"/><circle cx="112.40" cy="37.38" r="1.3"/><circle cx="114.70" cy="36.73" r="1.3"/><circle cx="117.00" cy="36.49" r="1.3"/><circle cx="119.30" cy="36.85" r="1.3"/><circle cx="121.60" cy="37.82" r="1.3"/><circle cx="123.90" cy="38.84" r="1.3"/><circle cx="126.20" cy="42.13" r="1.3"/><circle cx="128.50" cy="43.78" r="1.3"/><circle cx="130.80" cy="44.76" r="1.3"/><circle cx="133.10" cy="45.00" r="1.3"/><circle cx="135.40" cy="45.18" r="1.3"/><circle cx="137.70" cy="45.24" r="1.3"/><circle cx="140.00" cy="45.39" r="1.3"/><circle cx="142.30" cy="45.06" r="1.3"/><circle cx="144.60" cy="44.30" r="1.3"/><circle cx="146.90" cy="43.80" r="1.3"/><circle cx="149.20" cy="43.03" r="1.3"/><circle cx="151.50" cy="41.99" r="1.3"/><circle cx="153.80" cy="41.50" r="1.3"/><circle cx="156.10" cy="41.59" r="1.3"/><circle cx="158.40" cy="42.62" r="1.3"/><circle cx="160.70" cy="43.48" r="1.3"/><circle cx="163.00" cy="44.09" r="1.3"/><circle cx="165.30" cy="44.82" r="1.3"/><circle cx="167.60" cy="45.09" r="1.3"/><circle cx="169.90" cy="45.20" r="1.3"/><circle cx="172.20" cy="45.29" r="1.3"/><circle cx="174.50" cy="45.46" r="1.3"/><circle cx="176.80" cy="45.77" r="1.3"/><circle cx="179.10" cy="45.67" r="1.3"/><circle cx="181.40" cy="45.76" r="1.3"/><circle cx="183.70" cy="46.15" r="1.3"/><circle cx="186.00" cy="46.64" r="1.3"/><circle cx="188.30" cy="46.88" r="1.3"/><circle cx="190.60" cy="47.31" r="1.3"/><circle cx="192.90" cy="48.03" r="1.3"/><circle cx="195.20" cy="48.30" r="1.3"/><circle cx="197.50" cy="49.07" r="1.3"/><circle cx="199.80" cy="49.52" r="1.3"/><circle cx="202.10" cy="49.96" r="1.3"/><circle cx="204.40" cy="50.19" r="1.3"/><circle cx="206.70" cy="50.30" r="1.3"/><circle cx="209.00" cy="50.41" r="1.3"/><circle cx="211.30" cy="50.24" r="1.3"/><circle cx="213.60" cy="50.34" r="1.3"/><circle cx="215.90" cy="50.04" r="1.3"/><circle cx="218.20" cy="50.02" r="1.3"/><circle cx="220.50" cy="49.60" r="1.3"/><circle cx="222.80" cy="48.98" r="1.3"/><circle cx="225.10" cy="48.06" r="1.3"/><circle cx="227.40" cy="47.48" r="1.3"/><circle cx="229.70" cy="47.22" r="1.3"/><circle cx="232.00" cy="46.69" r="1.3"/><circle cx="234.30" cy="46.96" r="1.3"/><circle cx="236.60" cy="46.94" r="1.3"/><circle cx="238.90" cy="46.98" r="1.3"/><circle cx="241.20" cy="46.88" r="1.3"/><circle cx="243.50" cy="47.05" r="1.3"/><circle cx="245.80" cy="46.72" r="1.3"/><circle cx="248.10" cy="46.51" r="1.3"/><circle cx="250.40" cy="46.36" r="1.3"/><circle cx="252.70" cy="45.99" r="1.3"/><circle cx="255.00" cy="45.61" r="1.3"/><circle cx="266.00" cy="46.00" r="1.3"/><circle cx="276.40" cy="48.00" r="1.3"/><circle cx="288.00" cy="45.80" r="1.3"/><circle cx="299.20" cy="43.60" r="1.3"/><circle cx="310.40" cy="43.60" r="1.3"/></g>
<path d="M42.00 215.40V211.00M42.00 0.70V5.10M53.15 215.40V213.00M53.15 0.70V3.10M64.30 215.40V213.00M64.30 0.70V3.10M75.45 215.40V213.00M75.45 0.70V3.10M86.60 215.40V213.00M86.60 0.70V3.10M97.75 215.40V211.00M97.75 0.70V5.10M108.90 215.40V213.00M108.90 0.70V3.10M120.05 215.40V213.00M120.05 0.70V3.10M131.20 215.40V213.00M131.20 0.70V3.10M142.35 215.40V213.00M142.35 0.70V3.10M153.50 215.40V211.00M153.50 0.70V5.10M164.65 215.40V213.00M164.65 0.70V3.10M175.80 215.40V213.00M175.80 0.70V3.10M186.95 215.40V213.00M186.95 0.70V3.10M198.10 215.40V213.00M198.10 0.70V3.10M209.25 215.40V211.00M209.25 0.70V5.10M220.40 215.40V213.00M220.40 0.70V3.10M231.55 215.40V213.00M231.55 0.70V3.10M242.70 215.40V213.00M242.70 0.70V3.10M253.85 215.40V213.00M253.85 0.70V3.10M265.00 215.40V211.00M265.00 0.70V5.10M276.15 215.40V213.00M276.15 0.70V3.10M287.30 215.40V213.00M287.30 0.70V3.10M298.45 215.40V213.00M298.45 0.70V3.10M309.60 215.40V213.00M309.60 0.70V3.10M320.75 215.40V211.00M320.75 0.70V5.10M331.90 215.40V213.00M331.90 0.70V3.10M343.05 215.40V213.00M343.05 0.70V3.10M41.95 215.40H46.35M348.15 215.40H343.75M41.95 204.08H44.35M348.15 204.08H345.75M41.95 192.76H44.35M348.15 192.76H345.75M41.95 181.44H44.35M348.15 181.44H345.75M41.95 170.12H44.35M348.15 170.12H345.75M41.95 158.80H46.35M348.15 158.80H343.75M41.95 147.48H44.35M348.15 147.48H345.75M41.95 136.16H44.35M348.15 136.16H345.75M41.95 124.84H44.35M348.15 124.84H345.75M41.95 113.52H44.35M348.15 113.52H345.75M41.95 102.20H46.35M348.15 102.20H343.75M41.95 90.88H44.35M348.15 90.88H345.75M41.95 79.56H44.35M348.15 79.56H345.75M41.95 68.24H44.35M348.15 68.24H345.75M41.95 56.92H44.35M348.15 56.92H345.75M41.95 45.60H46.35M348.15 45.60H343.75M41.95 34.28H44.35M348.15 34.28H345.75M41.95 22.96H44.35M348.15 22.96H345.75M41.95 11.64H44.35M348.15 11.64H345.75" fill="none" stroke="#000" stroke-width="1"/>
<rect x="41.95" y="0.70" width="306.20" height="214.70" fill="none" stroke="#000" stroke-width="1.4"/>
<text x="42.00" y="229" font-size="11.3" text-anchor="middle" font-family="Liberation Sans, sans-serif">0</text>
<text x="97.75" y="229" font-size="11.3" text-anchor="middle" font-family="Liberation Sans, sans-serif">10</text>
<text x="153.50" y="229" font-size="11.3" text-anchor="middle" font-family="Liberation Sans, sans-serif">20</text>
<text x="209.25" y="229" font-size="11.3" text-anchor="middle" font-family="Liberation Sans, sans-serif">30</text>
<text x="265.00" y="229" font-size="11.3" text-anchor="middle" font-family="Liberation Sans, sans-serif">40</text>
<text x="320.75" y="229" font-size="11.3" text-anchor="middle" font-family="Liberation Sans, sans-serif">50</text>
<text x="38.4" y="219.40" font-size="11.3" text-anchor="end" font-family="Liberation Sans, sans-serif">0</text>
<text x="38.4" y="162.80" font-size="11.3" text-anchor="end" font-family="Liberation Sans, sans-serif">50</text>
<text x="38.4" y="106.20" font-size="11.3" text-anchor="end" font-family="Liberation Sans, sans-serif">100</text>
<text x="38.4" y="49.60" font-size="11.3" text-anchor="end" font-family="Liberation Sans, sans-serif">150</text>
<text x="195.3" y="247.9" font-size="11.5" text-anchor="middle" font-family="Liberation Sans, sans-serif">Radius (kpc)</text>
<text transform="translate(10.4,131.8) rotate(-90)" font-size="11.3" text-anchor="start" font-family="Liberation Sans, sans-serif"><tspan font-style="italic">V</tspan><tspan font-size="8.5" dy="2.6">cir</tspan><tspan dy="-2.6" dx="0.4"> (km/s)</tspan></text>
<text x="55.00" y="21.40" font-size="12.00" font-family="Liberation Sans, sans-serif" text-anchor="start" textLength="62.60" lengthAdjust="spacingAndGlyphs">NGC 3198,</text>
<text x="123.00" y="21.40" font-size="12.00" font-family="Liberation Sans, sans-serif" font-style="italic" text-anchor="start">c</text>
<text x="129.00" y="24.00" font-size="9.00" font-family="Liberation Sans, sans-serif" text-anchor="start">200</text>
<text x="145.00" y="21.40" font-size="12.00" font-family="Liberation Sans, sans-serif" text-anchor="start" textLength="48.80" lengthAdjust="spacingAndGlyphs">:median,</text>
<text x="197.60" y="21.40" font-size="12.00" font-family="Liberation Sans, sans-serif" font-style="italic" text-anchor="start">M</text>
<text x="209.00" y="24.00" font-size="9.00" font-family="Liberation Sans, sans-serif" text-anchor="start">200</text>
<text x="225.20" y="21.40" font-size="12.00" font-family="Liberation Sans, sans-serif" text-anchor="start">:</text>
<text x="229.00" y="21.40" font-size="12.00" font-family="Liberation Sans, sans-serif" text-anchor="start">5×</text>
<text x="243.60" y="21.40" font-size="12.00" font-family="Liberation Sans, sans-serif" text-anchor="start">10</text>
<text x="256.60" y="16.80" font-size="9.40" font-family="Liberation Sans, sans-serif" text-anchor="start">11</text>
<text x="267.60" y="21.40" font-size="12.00" font-family="Liberation Sans, sans-serif" font-style="italic" text-anchor="start">M</text>
<circle cx="281.5" cy="20.8" r="2.6" fill="none" stroke="#000" stroke-width="0.75"/><circle cx="281.5" cy="20.8" r="0.75" fill="#000"/>
</svg>
</body></html>
